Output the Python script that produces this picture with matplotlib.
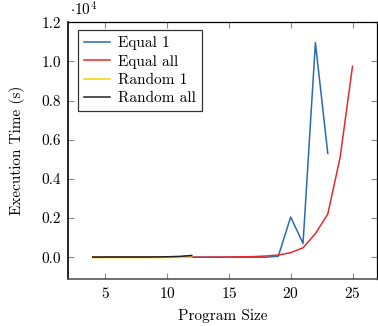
import matplotlib
matplotlib.use('Agg')
import matplotlib.pyplot as plt
from matplotlib.ticker import FuncFormatter

plt.rcParams['font.family'] = 'serif'
plt.rcParams['font.serif'] = ['cmr10']
plt.rcParams['mathtext.fontset'] = 'cm'
plt.rcParams['axes.formatter.use_mathtext'] = True

# data
x_equal1 = list(range(4, 24))
equal1 = [0, 0, 0, 0, 0, 0, 0, 0, 0, 0, 0, 0, 0, 0, 0, 50, 2050, 700, 10950, 5300]
x_equal_all = list(range(4, 26))
equal_all = [0, 0, 0, 0, 0, 0, 0, 0, 0, 0, 5, 10, 20, 30, 60, 110, 230, 480, 1200, 2200, 5100, 9750]
x_random = list(range(4, 13))
random1 = [-20, -20, -20, -20, -20, -20, -15, -10, 0]
random_all = [0, 5, 5, 5, 5, 10, 20, 40, 90]

fig, ax = plt.subplots(figsize=(3.78, 3.26), dpi=100)
fig.subplots_adjust(left=0.18, right=0.998, top=0.932, bottom=0.145)

ax.plot(x_equal1, equal1, color='#2a6ab5', lw=1.1, label='Equal 1')
ax.plot(x_equal_all, equal_all, color='#e52a2a', lw=1.1, label='Equal all')
ax.plot(x_random, random1, color='#eed400', lw=1.1, label='Random 1')
ax.plot(x_random, random_all, color='#222222', lw=1.1, label='Random all')

ax.set_xlim(2, 27)
ax.set_ylim(-1100, 12000)
ax.set_xticks([5, 10, 15, 20, 25])
ax.set_yticks(range(0, 12001, 2000))
ax.yaxis.set_major_formatter(FuncFormatter(lambda v, p: '%.1f' % (v / 1e4)))
ax.text(0.005, 1.012, r'$\cdot 10^4$', transform=ax.transAxes, fontsize=11, va='bottom', ha='left')

ax.tick_params(direction='in', top=True, right=True, color='#888888', length=4,
               labelsize=11, pad=5)
for s in ax.spines.values():
    s.set_linewidth(0.9)
ax.spines['left'].set_linewidth(1.2)
ax.spines['bottom'].set_linewidth(1.2)
ax.spines['bottom'].set_color('#555555')

ax.set_xlabel('Program Size', fontsize=11, labelpad=6)
ax.set_ylabel('Execution Time (s)', fontsize=11, labelpad=12)

leg = ax.legend(loc='upper left', fontsize=11, frameon=True, fancybox=False,
                edgecolor='black', handlelength=1.7, handletextpad=0.5,
                borderpad=0.4, labelspacing=0.3, borderaxespad=0,
                bbox_to_anchor=(0.032, 0.97))
leg.get_frame().set_linewidth(0.9)

plt.savefig('out.png', dpi=100)
